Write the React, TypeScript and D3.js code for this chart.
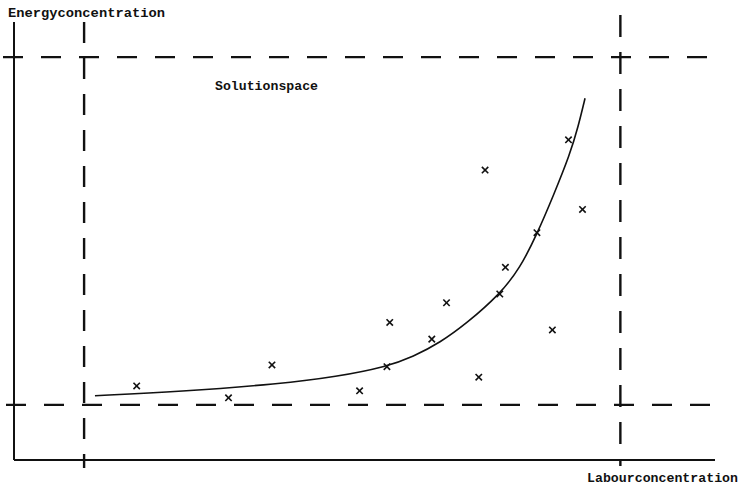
import React from "react";
import * as d3 from "d3";

const W = 741;
const H = 485;

// Observations (labour concentration, energy concentration), arbitrary 0-100 units
const obsX = [17.5, 30.6, 36.8, 49.3, 53.2, 53.6, 59.6, 61.7, 66.3, 67.2, 69.3, 70.1, 74.6, 76.8, 79.1, 81.1];
const obsY = [16.9, 14.2, 21.7, 15.8, 21.3, 31.4, 27.6, 35.9, 18.9, 66.2, 37.9, 44.0, 51.9, 29.7, 73.1, 57.2];

// Fitted curve
const curveX = [11.55, 23.68, 37.95, 46.0, 53.17, 56.96, 60.77, 64.58, 69.33, 72.18, 74.56, 76.93, 79.31, 80.5, 81.46];
const curveY = [14.68, 15.59, 17.4, 19.0, 21.3, 23.6, 26.8, 31.2, 37.9, 43.8, 51.4, 60.3, 69.8, 76.2, 82.58];

// Bounds of the solution space
const boundsX = [10.0, 86.5];
const boundsY = [12.6, 92.0];

const axisLabels = ["Energyconcentration", "Labourconcentration"];
const spaceLabel = "Solutionspace";

export default function App() {
  const x = d3.scaleLinear().domain([0, 100]).range([14, 715]);
  const y = d3.scaleLinear().domain([0, 100]).range([460, 22]);

  const line = d3
    .line<[number, number]>()
    .x((d) => x(d[0]))
    .y((d) => y(d[1]))
    .curve(d3.curveBasis);

  const curvePts: [number, number][] = curveX.map((v, i) => [v, curveY[i]]);
  const ink = "#111";
  const font = "'Liberation Mono', 'DejaVu Sans Mono', monospace";
  const s = 3.2;

  return (
    <div style={{ position: "absolute", left: 0, top: 0 }}>
      <svg width={W} height={H} style={{ display: "block", background: "#fff" }}>
        {/* axes */}
        <line x1={x(0)} y1={22} x2={x(0)} y2={y(0)} stroke={ink} strokeWidth={2} />
        <line x1={x(0)} y1={y(0)} x2={715} y2={y(0)} stroke={ink} strokeWidth={2} />

        {/* dashed bounds */}
        <line x1={x(boundsX[0])} y1={22} x2={x(boundsX[0])} y2={468} stroke={ink} strokeWidth={2.4} strokeDasharray="21 15" />
        <line x1={x(boundsX[1])} y1={15} x2={x(boundsX[1])} y2={466} stroke={ink} strokeWidth={2.4} strokeDasharray="22 15" />
        <line x1={3} y1={y(boundsY[1])} x2={715} y2={y(boundsY[1])} stroke={ink} strokeWidth={2.2} strokeDasharray="20 18" />
        <line x1={6} y1={y(boundsY[0])} x2={715} y2={y(boundsY[0])} stroke={ink} strokeWidth={2.2} strokeDasharray="20 18" />

        {/* curve */}
        <path d={line(curvePts) || ""} fill="none" stroke={ink} strokeWidth={1.6} />

        {/* observations */}
        {obsX.map((v, i) => {
          const cx = x(v);
          const cy = y(obsY[i]);
          return (
            <g key={i} stroke={ink} strokeWidth={1.6}>
              <line x1={cx - s} y1={cy - s} x2={cx + s} y2={cy + s} />
              <line x1={cx - s} y1={cy + s} x2={cx + s} y2={cy - s} />
            </g>
          );
        })}

        {/* labels */}
        <text x={8} y={17} fontFamily={font} fontWeight="bold" fontSize={13.5} fill={ink} textLength={157} lengthAdjust="spacingAndGlyphs">
          {axisLabels[0]}
        </text>
        <text x={587} y={482} fontFamily={font} fontWeight="bold" fontSize={13} fill={ink} textLength={151} lengthAdjust="spacingAndGlyphs">
          {axisLabels[1]}
        </text>
        <text x={215} y={90} fontFamily={font} fontWeight="bold" fontSize={13.5} fill={ink} textLength={103} lengthAdjust="spacingAndGlyphs">
          {spaceLabel}
        </text>
      </svg>
    </div>
  );
}
